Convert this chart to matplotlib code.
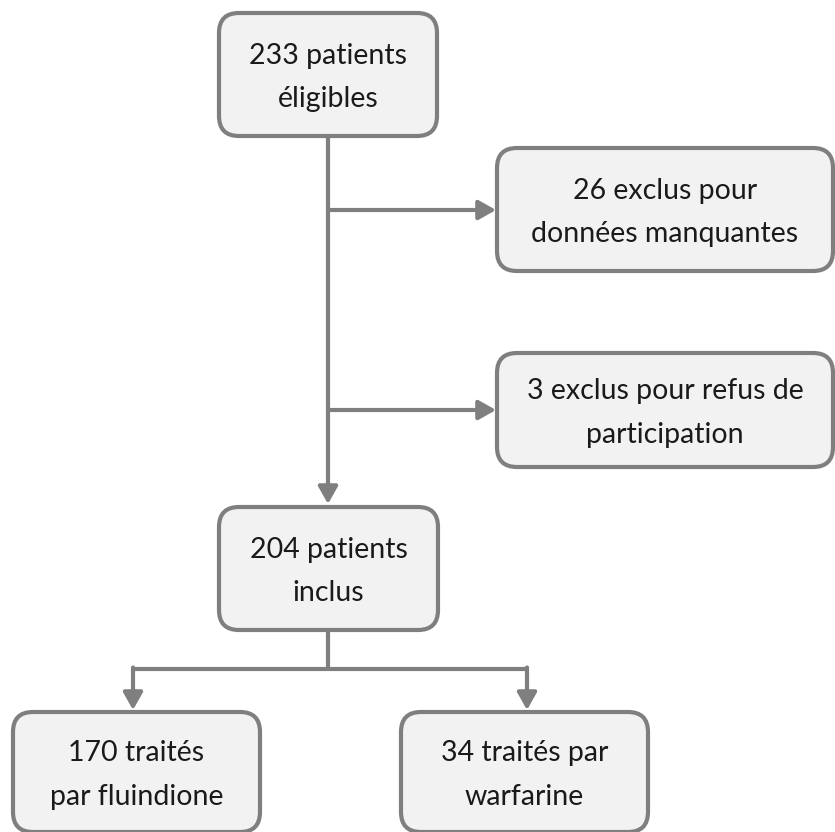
import matplotlib
matplotlib.use("Agg")
import matplotlib.pyplot as plt
from matplotlib.patches import FancyBboxPatch, FancyArrowPatch

plt.rcParams['font.family'] = ['Lato', 'DejaVu Sans']

# Labels (data)
labels = [
    "233 patients\néligibles",
    "26 exclus pour\ndonnées manquantes",
    "3 exclus pour refus de\nparticipation",
    "204 patients\ninclus",
    "170 traités\npar fluindione",
    "34 traités par\nwarfarine",
]
counts = [233, 26, 3, 204, 170, 34]

# Layout (pixels; x0, y0, x1, y1)
boxes = [
    (219, 13, 437, 136),
    (497, 148, 833, 271),
    (497, 353, 833, 467),
    (219, 507, 438, 630),
    (13, 712, 260, 832),
    (401, 712, 648, 832),
]

W, H = 835, 832
fig = plt.figure(figsize=(W / 100, H / 100), dpi=100)
ax = fig.add_axes([0, 0, 1, 1])
ax.set_xlim(0, W)
ax.set_ylim(H, 0)
ax.axis('off')

edge = '#7f7f7f'
fill = '#f2f2f2'
lw = 3.0
r = 20

for (x0, y0, x1, y1), lab in zip(boxes, labels):
    p = FancyBboxPatch((x0 + r, y0 + r), (x1 - x0) - 2 * r, (y1 - y0) - 2 * r,
                       boxstyle=f"round,pad={r},rounding_size={r}",
                       fc=fill, ec=edge, lw=lw, zorder=2)
    ax.add_patch(p)
    cy = (y0 + y1) / 2 if y1 < H else (y0 + 832) / 2
    ax.text((x0 + x1) / 2, cy + 3, lab, ha='center', va='center',
            fontsize=20.5, color='#1a1a1a', linespacing=1.85, zorder=3)

cx = 328

def arrow(x0, y0, x1, y1):
    a = FancyArrowPatch((x0, y0), (x1, y1), arrowstyle='-|>,head_length=0.8,head_width=0.45',
                        mutation_scale=13, color=edge, lw=lw, shrinkA=0, shrinkB=0, zorder=1)
    ax.add_patch(a)

def line(xs, ys):
    ax.plot(xs, ys, color=edge, lw=lw, solid_capstyle='butt', zorder=1)

# main vertical
arrow(cx, 136, cx, 504)
# side arrows
arrow(cx, 210, 496, 210)
arrow(cx, 410, 496, 410)
# bottom split
line([cx, cx], [630, 669])
line([133, 527], [669, 669])
arrow(133, 667.5, 133, 710)
arrow(527, 667.5, 527, 710)

fig.savefig('out.png', dpi=100, facecolor='white')
